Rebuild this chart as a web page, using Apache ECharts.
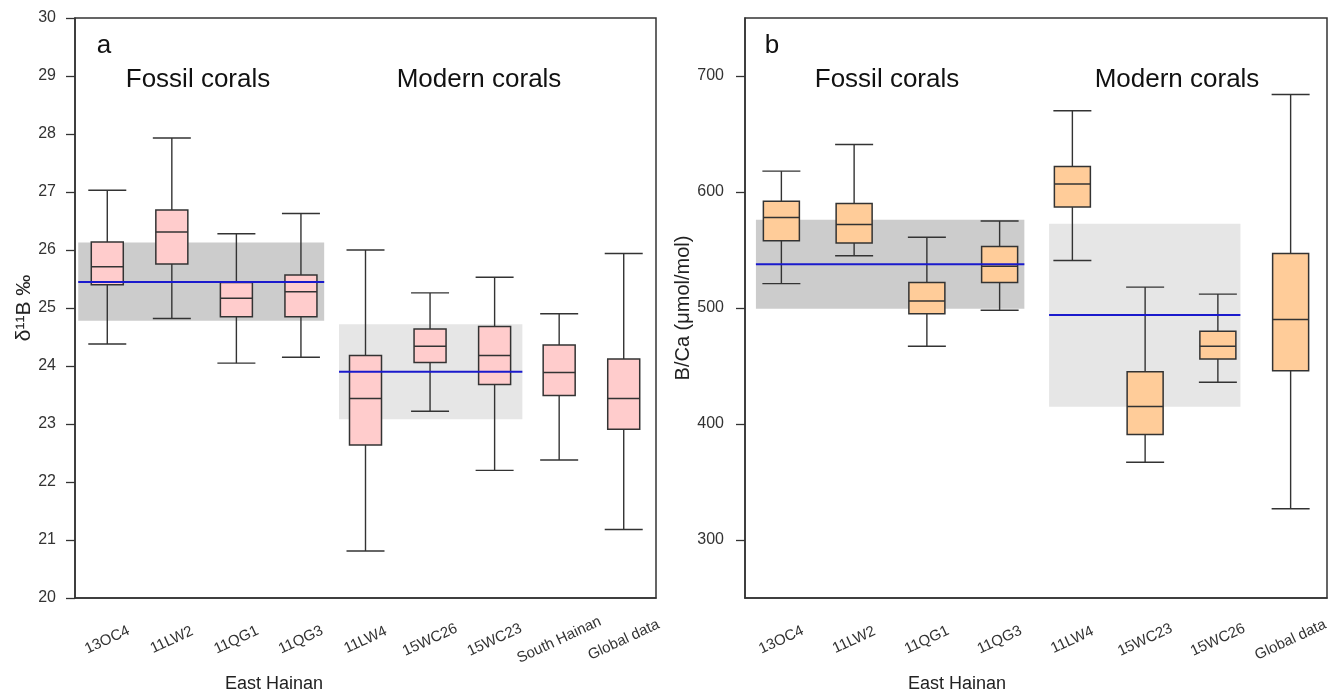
<!DOCTYPE html>
<html><head><meta charset="utf-8">
<script src="https://cdn.jsdelivr.net/npm/echarts@6/dist/echarts.min.js"></script>
<style>html,body{margin:0;padding:0;background:#fff}#c{width:1334px;height:694px}</style>
</head><body><div id="c"></div>
<script>
// ---- Panel a: δ11B ----
var catsA = ['13OC4','11LW2','11QG1','11QG3','11LW4','15WC26','15WC23','South Hainan','Global data'];
var minA = [24.38, 24.82, 24.05, 24.15, 20.81, 23.22, 22.20, 22.38, 21.18];
var q1A  = [25.40, 25.76, 24.85, 24.85, 22.64, 24.06, 23.68, 23.49, 22.91];
var medA = [25.71, 26.31, 25.17, 25.28, 23.44, 24.34, 24.18, 23.89, 23.44];
var q3A  = [26.14, 26.69, 25.44, 25.57, 24.18, 24.64, 24.68, 24.36, 24.12];
var maxA = [27.03, 27.93, 26.28, 26.63, 26.00, 25.26, 25.53, 24.90, 25.94];
// bands: [xFrom, xTo (category index units), yLow, yHigh, mean]
var bandsA = [[-0.45, 3.36, 24.78, 26.13, 25.45], [3.59, 6.43, 23.08, 24.72, 23.90]];
var yTicksA = [20,21,22,23,24,25,26,27,28,29,30];

// ---- Panel b: B/Ca ----
var catsB = ['13OC4','11LW2','11QG1','11QG3','11LW4','15WC23','15WC26','Global data'];
var minB = [521, 545, 467, 498, 541, 367, 436, 327];
var q1B  = [558, 556, 495, 522, 587, 391, 456, 446];
var medB = [578, 572, 506, 536, 607, 415, 467, 490];
var q3B  = [592, 590, 522, 553, 622, 445, 480, 547];
var maxB = [618, 641, 561, 575, 670, 518, 512, 684];
var bandsB = [[-0.35, 3.34, 499.4, 576.1, 537.7], [3.68, 6.31, 414.9, 572.7, 494.0]];
var yTicksB = [300, 400, 500, 600, 700];

function boxData(mn, q1, md, q3, mx) {
  return mn.map(function (v, i) { return [i, mn[i], q1[i], md[i], q3[i], mx[i]]; });
}
function makeBoxRender(boxW, capW, fill) {
  return function (params, api) {
    var x = api.value(0);
    var pMin = api.coord([x, api.value(1)]);
    var pQ1 = api.coord([x, api.value(2)]);
    var pMed = api.coord([x, api.value(3)]);
    var pQ3 = api.coord([x, api.value(4)]);
    var pMax = api.coord([x, api.value(5)]);
    var cx = pMin[0];
    var ls = {stroke: '#333', lineWidth: 1.4};
    return {type: 'group', children: [
      {type: 'line', shape: {x1: cx, y1: pMin[1], x2: cx, y2: pQ1[1]}, style: ls},
      {type: 'line', shape: {x1: cx, y1: pQ3[1], x2: cx, y2: pMax[1]}, style: ls},
      {type: 'line', shape: {x1: cx - capW / 2, y1: pMin[1], x2: cx + capW / 2, y2: pMin[1]}, style: ls},
      {type: 'line', shape: {x1: cx - capW / 2, y1: pMax[1], x2: cx + capW / 2, y2: pMax[1]}, style: ls},
      {type: 'rect', shape: {x: cx - boxW / 2, y: pQ3[1], width: boxW, height: pQ1[1] - pQ3[1]},
        style: {fill: fill, stroke: '#333', lineWidth: 1.5}},
      {type: 'line', shape: {x1: cx - boxW / 2, y1: pMed[1], x2: cx + boxW / 2, y2: pMed[1]}, style: {stroke: '#333', lineWidth: 1.5}}
    ]};
  };
}
var bandColors = ['#cccccc', '#e6e6e6'];
function bandRender(params, api) {
  var p1 = api.coord([api.value(0), api.value(3)]);
  var p2 = api.coord([api.value(1), api.value(2)]);
  return {type: 'rect', shape: {x: p1[0], y: p1[1], width: p2[0] - p1[0], height: p2[1] - p1[1]},
    style: {fill: bandColors[params.dataIndex]}};
}
function meanRender(params, api) {
  var p1 = api.coord([api.value(0), api.value(4)]);
  var p2 = api.coord([api.value(1), api.value(4)]);
  return {type: 'line', shape: {x1: p1[0], y1: p1[1], x2: p2[0], y2: p2[1]},
    style: {stroke: '#1a1acc', lineWidth: 2}};
}

var FONT = 'Liberation Sans, Arial, sans-serif';
var catAxis = function (grid, cats) {
  return {type: 'category', gridIndex: grid, data: cats, boundaryGap: true,
    axisLine: {onZero: false, lineStyle: {color: '#333', width: 1.5}},
    axisTick: {alignWithLabel: true, length: 8, lineStyle: {color: '#333', width: 1.3}},
    axisLabel: {interval: 0, rotate: 25, align: 'center', verticalAlign: 'middle', margin: 42,
      fontSize: 15, color: '#333', fontFamily: FONT},
    splitLine: {show: false}};
};
var hidAxis = function (grid, n) {
  return {type: 'value', gridIndex: grid, min: -0.5, max: n - 0.5, show: false};
};

var option = {
  animation: false,
  backgroundColor: '#fff',
  grid: [
    {left: 75, top: 18, width: 581, height: 580, show: true, borderColor: '#333', borderWidth: 1.5},
    {left: 745, top: 18, width: 582, height: 580, show: true, borderColor: '#333', borderWidth: 1.5}
  ],
  xAxis: [catAxis(0, catsA), hidAxis(0, catsA.length), catAxis(1, catsB), hidAxis(1, catsB.length)],
  yAxis: [
    {type: 'value', gridIndex: 0, min: 20, max: 30, interval: 1,
      name: 'δ¹¹B ‰', nameLocation: 'middle', nameGap: 40,
      nameTextStyle: {fontSize: 21, color: '#222', fontFamily: FONT},
      axisLine: {show: true, onZero: false, lineStyle: {color: '#333', width: 1.5}},
      axisTick: {show: true, length: 9, lineStyle: {color: '#333', width: 1.3}},
      axisLabel: {margin: 19, fontSize: 16, color: '#333', fontFamily: FONT},
      splitLine: {show: false}},
    {type: 'value', gridIndex: 1, min: 250, max: 750,
      name: 'B/Ca (μmol/mol)', nameLocation: 'middle', nameGap: 52,
      nameTextStyle: {fontSize: 20, color: '#222', fontFamily: FONT},
      axisLine: {show: true, onZero: false, lineStyle: {color: '#333', width: 1.5}},
      axisTick: {show: true, length: 9, lineStyle: {color: '#333', width: 1.3}, customValues: yTicksB},
      axisLabel: {margin: 21, fontSize: 16, color: '#333', fontFamily: FONT, customValues: yTicksB},
      splitLine: {show: false}}
  ],
  series: [
    {type: 'custom', xAxisIndex: 1, yAxisIndex: 0, data: bandsA, renderItem: bandRender, z: 1, silent: true},
    {type: 'custom', xAxisIndex: 0, yAxisIndex: 0, data: boxData(minA, q1A, medA, q3A, maxA),
      renderItem: makeBoxRender(32, 38, '#ffcccc'), z: 3, encode: {x: 0, y: [1, 2, 3, 4, 5]}},
    {type: 'custom', xAxisIndex: 1, yAxisIndex: 0, data: bandsA, renderItem: meanRender, z: 5, silent: true},
    {type: 'custom', xAxisIndex: 3, yAxisIndex: 1, data: bandsB, renderItem: bandRender, z: 1, silent: true},
    {type: 'custom', xAxisIndex: 2, yAxisIndex: 1, data: boxData(minB, q1B, medB, q3B, maxB),
      renderItem: makeBoxRender(36, 38, '#ffcc99'), z: 3, encode: {x: 0, y: [1, 2, 3, 4, 5]}},
    {type: 'custom', xAxisIndex: 3, yAxisIndex: 1, data: bandsB, renderItem: meanRender, z: 5, silent: true}
  ],
  graphic: [
    {type: 'text', x: 104, y: 46, style: {text: 'a', font: '26px ' + FONT, fill: '#111', textAlign: 'center', textVerticalAlign: 'middle'}},
    {type: 'text', x: 198, y: 80, style: {text: 'Fossil corals', font: '26px ' + FONT, fill: '#111', textAlign: 'center', textVerticalAlign: 'middle'}},
    {type: 'text', x: 479, y: 80, style: {text: 'Modern corals', font: '26px ' + FONT, fill: '#111', textAlign: 'center', textVerticalAlign: 'middle'}},
    {type: 'text', x: 772, y: 46, style: {text: 'b', font: '26px ' + FONT, fill: '#111', textAlign: 'center', textVerticalAlign: 'middle'}},
    {type: 'text', x: 887, y: 80, style: {text: 'Fossil corals', font: '26px ' + FONT, fill: '#111', textAlign: 'center', textVerticalAlign: 'middle'}},
    {type: 'text', x: 1177, y: 80, style: {text: 'Modern corals', font: '26px ' + FONT, fill: '#111', textAlign: 'center', textVerticalAlign: 'middle'}},
    {type: 'text', x: 274, y: 684, style: {text: 'East Hainan', font: '18px ' + FONT, fill: '#222', textAlign: 'center', textVerticalAlign: 'middle'}},
    {type: 'text', x: 957, y: 684, style: {text: 'East Hainan', font: '18px ' + FONT, fill: '#222', textAlign: 'center', textVerticalAlign: 'middle'}}
  ]
};
var chart = echarts.init(document.getElementById('c'), null, {renderer: 'canvas'});
chart.setOption(option);
</script></body></html>
